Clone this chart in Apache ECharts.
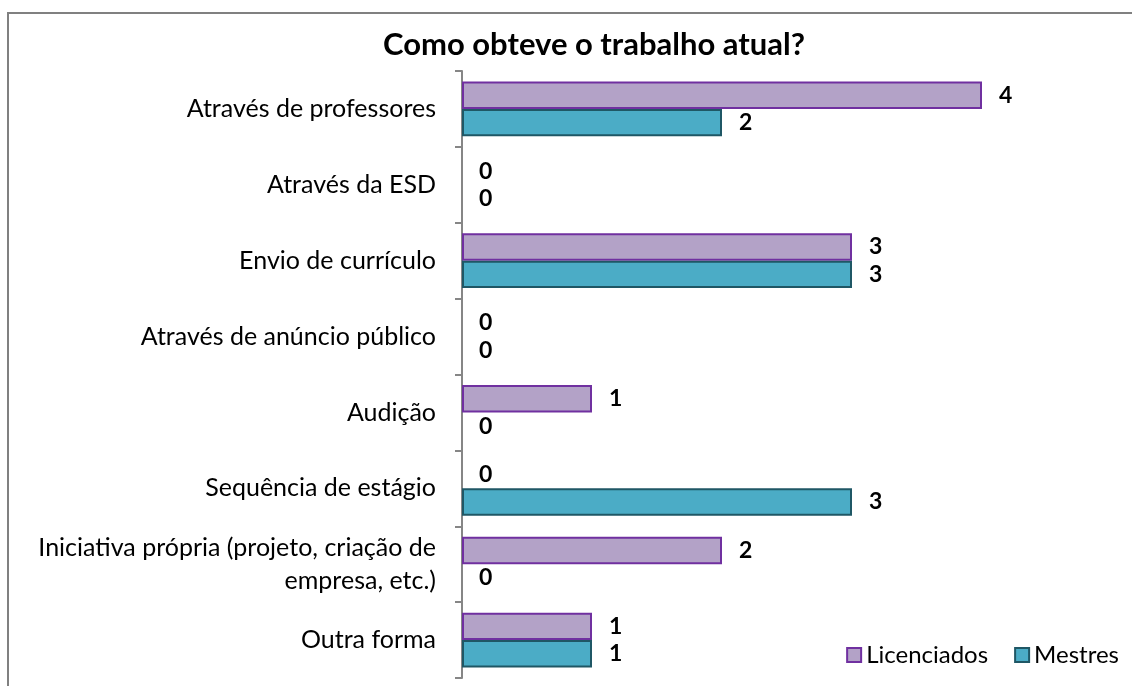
<!DOCTYPE html>
<html>
<head>
<meta charset="utf-8">
<script src="https://cdn.jsdelivr.net/npm/echarts@6/dist/echarts.min.js"></script>
<style>html,body{margin:0;padding:0;background:#fff}#c{width:1132px;height:686px}</style>
</head>
<body>
<div id="c"></div>
<script>
var categories = ["Através de professores","Através da ESD","Envio de currículo","Através de anúncio público","Audição","Sequência de estágio","Iniciativa própria (projeto, criação de\nempresa, etc.)","Outra forma"];
var licenciados = [4,0,3,0,1,0,2,1];
var mestres = [2,0,3,0,0,3,0,1];
var seriesNames = ["Licenciados","Mestres"];
var titleText = "Como obteve o trabalho atual?";

var FONT = "Lato";
function prep(arr){ return arr.map(function(v){ return v === 0 ? {value:v, itemStyle:{borderWidth:0}} : v; }); }
var chart = echarts.init(document.getElementById('c'), null, {renderer:'canvas'});
var labelCfg = {show:true, position:'right', distance:17, color:'#000', fontWeight:'bold', fontSize:23, fontFamily:FONT};
chart.setOption({
  animation:false,
  backgroundColor:'#fff',
  graphic:[{type:'rect', shape:{x:8,y:13,width:1300,height:900}, style:{fill:'none', stroke:'#808080', lineWidth:2}, silent:true}],
  title:{text:titleText, left:378, top:24, textStyle:{fontFamily:FONT, fontSize:31, fontWeight:'bold', color:'#000'}},
  legend:{data:seriesNames, right:8, bottom:14, itemWidth:14, itemHeight:14, itemGap:26, icon:'rect',
    textStyle:{fontFamily:FONT, fontSize:24, color:'#000'}},
  grid:{left:462, right:20, top:71, bottom:8},
  xAxis:{type:'value', min:0, max:5, show:false},
  yAxis:{type:'category', data:categories, inverse:true,
    axisLine:{lineStyle:{color:'#868686', width:2}},
    axisTick:{show:true, length:7, interval:0, lineStyle:{color:'#868686', width:2}},
    axisLabel:{margin:26, fontFamily:FONT, fontSize:25, color:'#000', lineHeight:33, interval:0},
    splitLine:{show:false}},
  series:[
    {name:seriesNames[0], type:'bar', data:prep(licenciados), barGap:'0%', barCategoryGap:'28%',
     itemStyle:{color:'#B3A2C7', borderColor:'#7030A0', borderWidth:2}, label:labelCfg},
    {name:seriesNames[1], type:'bar', data:prep(mestres), barGap:'0%', barCategoryGap:'28%',
     itemStyle:{color:'#4BACC6', borderColor:'#1F5765', borderWidth:2}, label:labelCfg}
  ]
});
</script>
</body>
</html>
